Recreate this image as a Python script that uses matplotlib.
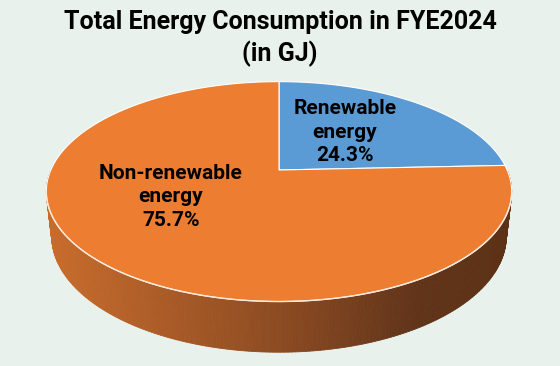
import numpy as np
import matplotlib
matplotlib.use('Agg')
import matplotlib.pyplot as plt
from matplotlib.patches import Polygon
from matplotlib.colors import LinearSegmentedColormap

# data
labels = ['Renewable\nenergy', 'Non-renewable\nenergy']
values = [24.3, 75.7]
colors = ['#5B9BD5', '#ED7D31']
title = 'Total Energy Consumption in FYE2024\n(in GJ)'

plt.rcParams['font.family'] = ['Roboto', 'DejaVu Sans']
bg = '#E8F1EC'

fig = plt.figure(figsize=(5.6, 3.66), dpi=100, facecolor=bg)
ax = fig.add_axes([0, 0, 1, 1])
ax.set_xlim(0, 560)
ax.set_ylim(366, 0)
ax.axis('off')
ax.set_facecolor(bg)

# perspective camera for the 3d pie
alpha = np.radians(27.6)
s, c = np.sin(alpha), np.cos(alpha)
L = 5.094 * c
K = 1030.0
cx, cy = 279.0, 170.0
depth = 0.222


def project(X, Y, Z):
	yc = s * Y + c * Z
	zc = c * Y - s * Z + L
	return cx + K * X / zc, cy - K * yc / zc


def rim(t0, t1, z, n=200):
	th = np.radians(np.linspace(t0, t1, n))
	return project(np.cos(th), np.sin(th), np.full_like(th, z))


# side wall (front half), shaded left->right
side_cmap = LinearSegmentedColormap.from_list('side', [(0.0, '#C86C2C'), (0.5, '#8C4B22'),
														 (0.8, '#61341A'), (1.0, '#5C3115')])
th = np.linspace(180, 360, 240)
tx, ty = rim(180, 360, 0, 240)
bx, by = rim(180, 360, -depth, 240)
for i in range(len(th) - 1):
	quad = [(tx[i], ty[i]), (tx[i + 1], ty[i + 1]), (bx[i + 1], by[i + 1]), (bx[i], by[i])]
	f = ((tx[i] + tx[i + 1]) / 2 - 48) / (512 - 48)
	col = side_cmap(np.clip(f, 0, 1))
	ax.add_patch(Polygon(quad, closed=True, facecolor=col, edgecolor=col, lw=0.6))

# top face wedges, start at 12 o'clock going clockwise
total = sum(values)
start = 90.0
for v, col in zip(values, colors):
	sweep = 360.0 * v / total
	px, py = rim(start - sweep, start, 0, 300)
	pts = [(cx, cy)] + list(zip(px, py))
	ax.add_patch(Polygon(pts, closed=True, facecolor=col, edgecolor='white', lw=0.8, zorder=3))
	start -= sweep

# light edge where top meets side
ex, ey = rim(192, 348, 0, 200)
ax.plot(ex, ey, color='#FBE9DC', lw=1.0, zorder=4)

# labels
pct = [f'{v:.1f}%' for v in values]
ax.text(345, 132, labels[0] + '\n' + pct[0], ha='center', va='center', fontsize=15,
		fontweight='bold', linespacing=1.33, zorder=5)
ax.text(171, 197, labels[1] + '\n' + pct[1], ha='center', va='center', fontsize=15,
		fontweight='bold', linespacing=1.33, zorder=5)

fig.text(0.5, 1 - 38.5 / 366, title, ha='center', va='center', fontsize=18,
		 fontweight='bold', linespacing=1.3)

fig.savefig('out.png', dpi=100, facecolor=bg)
